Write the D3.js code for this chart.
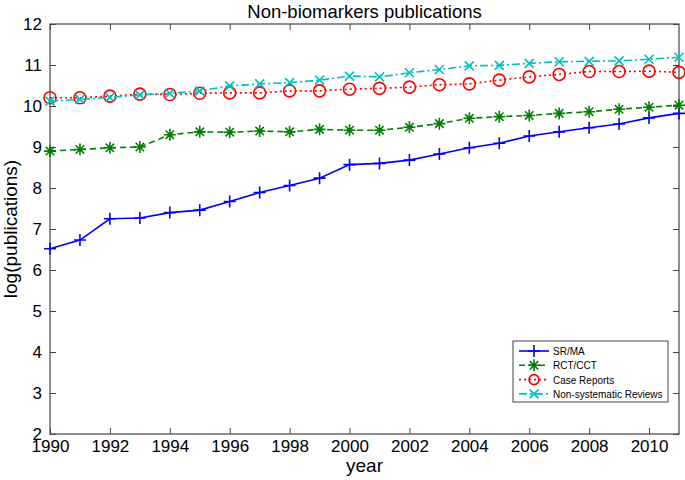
<!DOCTYPE html>
<html>
<head>
<meta charset="utf-8">
<script src="https://cdn.jsdelivr.net/npm/d3@7"></script>
<style>
  body { margin: 0; background: #fff; }
  text { font-family: "Liberation Sans", Arial, sans-serif; fill: #000; }
</style>
</head>
<body>
<script>
// data
var years = d3.range(1990, 2012);
var srma = [6.52, 6.73, 7.25, 7.27, 7.40, 7.46, 7.67, 7.89, 8.06, 8.24, 8.57, 8.60, 8.68, 8.83, 8.98, 9.09, 9.27, 9.37, 9.47, 9.56, 9.71, 9.82];
var rct = [8.90, 8.94, 8.98, 9.00, 9.30, 9.37, 9.36, 9.39, 9.37, 9.43, 9.41, 9.41, 9.48, 9.57, 9.70, 9.74, 9.77, 9.82, 9.86, 9.92, 9.97, 10.02];
var caseRep = [10.20, 10.20, 10.24, 10.29, 10.28, 10.31, 10.32, 10.32, 10.37, 10.37, 10.41, 10.43, 10.46, 10.52, 10.54, 10.63, 10.71, 10.77, 10.84, 10.84, 10.85, 10.82];
var nonSys = [10.12, 10.16, 10.21, 10.27, 10.31, 10.37, 10.49, 10.54, 10.57, 10.63, 10.73, 10.71, 10.81, 10.89, 10.98, 10.99, 11.04, 11.08, 11.09, 11.10, 11.14, 11.19];
var xTicks = d3.range(1990, 2011, 2);
var yTicks = d3.range(2, 13);

var series = [
  {name: "SR/MA", vals: srma, color: "#0000ff", dash: null, marker: "plus"},
  {name: "RCT/CCT", vals: rct, color: "#008000", dash: "6,4", marker: "star"},
  {name: "Case Reports", vals: caseRep, color: "#ff0000", dash: "2,3", marker: "circle"},
  {name: "Non-systematic Reviews", vals: nonSys, color: "#00bfbf", dash: "8,3,2,3", marker: "cross"}
];

var width = 685, height = 480;
var pLeft = 50, pRight = 679, pTop = 24, pBottom = 434;

var svg = d3.select("body").append("svg")
  .attr("width", width)
  .attr("height", height);

var x = d3.scaleLinear().domain([1990, 2011]).range([pLeft, pRight]);
var y = d3.scaleLinear().domain([2, 12]).range([pBottom, pTop]);

// axes box with inward ticks (matlab style)
svg.append("g")
  .attr("transform", "translate(0," + pBottom + ")")
  .call(d3.axisBottom(x).tickValues(xTicks).tickFormat(d3.format("d")).tickSizeInner(-6).tickSizeOuter(0).tickPadding(6))
  .call(function(g){ g.select(".domain").remove(); });
svg.append("g")
  .attr("transform", "translate(0," + pTop + ")")
  .call(d3.axisTop(x).tickValues(xTicks).tickFormat("").tickSizeInner(-6).tickSizeOuter(0))
  .call(function(g){ g.select(".domain").remove(); });
svg.append("g")
  .attr("transform", "translate(" + pLeft + ",0)")
  .call(d3.axisLeft(y).tickValues(yTicks).tickFormat(d3.format("d")).tickSizeInner(-6).tickSizeOuter(0).tickPadding(8))
  .call(function(g){ g.select(".domain").remove(); });
svg.append("g")
  .attr("transform", "translate(" + pRight + ",0)")
  .call(d3.axisRight(y).tickValues(yTicks).tickFormat("").tickSizeInner(-6).tickSizeOuter(0))
  .call(function(g){ g.select(".domain").remove(); });

svg.selectAll(".tick line").attr("stroke", "#444");
svg.selectAll(".tick text").style("font-size", "17px").attr("fill", "#000");

svg.append("rect")
  .attr("x", pLeft).attr("y", pTop)
  .attr("width", pRight - pLeft).attr("height", pBottom - pTop)
  .attr("fill", "none").attr("stroke", "#444").attr("stroke-width", 1.2);

function drawMarker(g, type, color){
  if (type == "plus"){
    g.append("path").attr("d", "M-6,0H6M0,-6V6");
  } else if (type == "star"){
    g.append("path").attr("d", "M-6,0H6M0,-6V6M-4.2,-4.2L4.2,4.2M-4.2,4.2L4.2,-4.2");
  } else if (type == "circle"){
    g.append("circle").attr("r", 6).attr("fill", "none");
  } else {
    g.append("path").attr("d", "M-4.5,-4.5L4.5,4.5M-4.5,4.5L4.5,-4.5");
  }
  g.selectAll("*").attr("stroke", color).attr("stroke-width", 1.6).attr("fill", "none");
}

var line = d3.line()
  .x(function(d, i){ return x(years[i]); })
  .y(function(d){ return y(d); });

series.forEach(function(s){
  svg.append("path")
    .datum(s.vals)
    .attr("d", line)
    .attr("fill", "none")
    .attr("stroke", s.color)
    .attr("stroke-width", 1.6)
    .attr("stroke-dasharray", s.dash);

  s.vals.forEach(function(v, i){
    var g = svg.append("g").attr("transform", "translate(" + x(years[i]) + "," + y(v) + ")");
    drawMarker(g, s.marker, s.color);
  });
});

// title and labels
svg.append("text")
  .attr("x", (pLeft + pRight) / 2).attr("y", 18)
  .attr("text-anchor", "middle")
  .style("font-size", "18.5px")
  .text("Non-biomarkers publications");

svg.append("text")
  .attr("x", (pLeft + pRight) / 2).attr("y", 472)
  .attr("text-anchor", "middle")
  .style("font-size", "19px")
  .text("year");

svg.append("text")
  .attr("transform", "translate(17," + (pTop + pBottom) / 2 + ") rotate(-90)")
  .attr("text-anchor", "middle")
  .style("font-size", "19px")
  .text("log(publications)");

// legend
var lx = 513, ly = 341, lw = 155, lh = 61;
svg.append("rect")
  .attr("x", lx).attr("y", ly).attr("width", lw).attr("height", lh)
  .attr("fill", "#fff").attr("stroke", "#444").attr("stroke-width", 1);

series.forEach(function(s, i){
  var cy = ly + 10 + i * 14.3;
  svg.append("line")
    .attr("x1", lx + 6).attr("x2", lx + 36)
    .attr("y1", cy).attr("y2", cy)
    .attr("stroke", s.color).attr("stroke-width", 1.6)
    .attr("stroke-dasharray", s.dash);
  var g = svg.append("g").attr("transform", "translate(" + (lx + 21) + "," + cy + ")");
  drawMarker(g, s.marker, s.color);
  if (s.marker == "circle") g.select("circle").attr("r", 5);
  svg.append("text")
    .attr("x", lx + 40).attr("y", cy + 4)
    .style("font-size", "10px")
    .text(s.name);
});
</script>
</body>
</html>
